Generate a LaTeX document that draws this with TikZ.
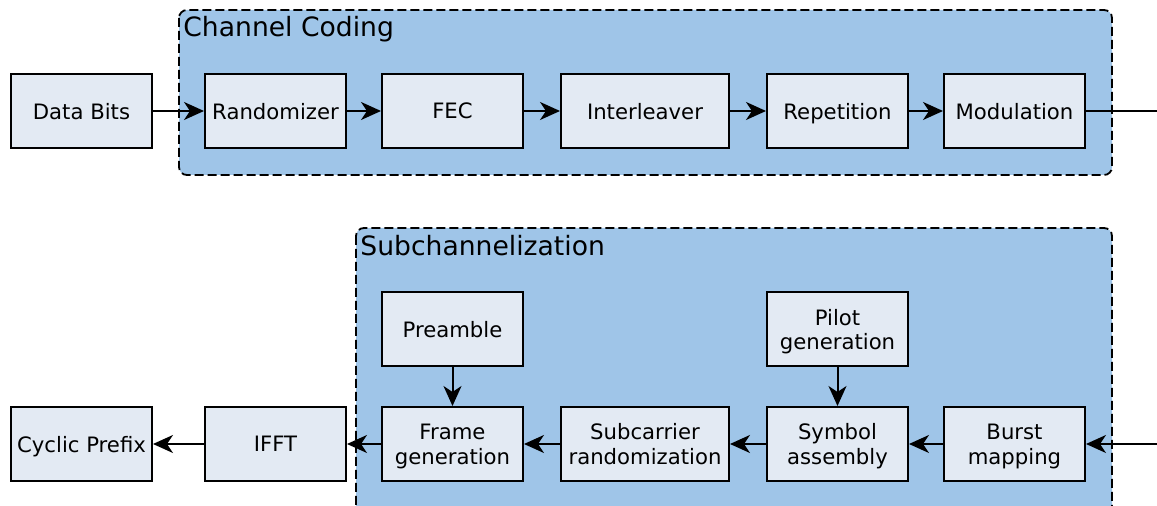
\documentclass[tikz,border=0pt]{standalone}
\usepackage{fontspec}
\setmainfont{DejaVu Sans}
\usetikzlibrary{arrows.meta,positioning}
\definecolor{boxfill}{RGB}{227,234,243}
\definecolor{groupfill}{RGB}{159,197,232}

\begin{document}
\begin{tikzpicture}[x=0.5pt, y=-0.5pt,
    block/.style={draw, line width=1pt, fill=boxfill, minimum width=70.5pt, minimum height=37pt,
        align=center, inner sep=2pt, text depth=0pt, font=\fontsize{10.6}{12.3}\selectfont},
    group/.style={draw, line width=0.9pt, dash pattern=on 4.5pt off 2pt, rounded corners=4pt, fill=groupfill},
    title/.style={anchor=base west, inner sep=0pt, font=\fontsize{13.3}{15}\selectfont},
    flow/.style={-{Stealth[length=10pt, width=9pt, inset=3pt]}, line width=1pt}]
    \useasboundingbox (0,0) rectangle (1157,506);

    % the two dashed groups
    \draw[group] (179,10) rectangle (1112,175);
    \node[title] (cctitle) at (183,37) {Channel Coding};
    \draw[group] (356,228) rectangle (1112,540);
    \node[title] (sctitle) at (360,256) {Subchannelization};

    % transmit chain, top row
    \node[block] (bits) at (81.5,111) {Data Bits};
    \node[block] (rand) at (275.5,111) {Randomizer};
    \node[block] (fec) at (452.5,111) {FEC};
    \node[block, minimum width=84pt] (inter) at (645,111) {Interleaver};
    \node[block] (rep) at (837.5,111) {Repetition};
    \node[block] (mod) at (1014.5,111) {Modulation};
    \coordinate (out) at (1157,111);

    % bottom row, right to left
    \node[block] (burst) at (1014.5,444) {Burst\\mapping};
    \node[block] (sym) at (837.5,444) {Symbol\\assembly};
    \node[block, minimum width=84pt] (subrand) at (645,444) {Subcarrier\\randomization};
    \node[block] (frame) at (452.5,444) {Frame\\generation};
    \node[block] (ifft) at (275.5,444) {IFFT};
    \node[block] (cp) at (81.5,444) {Cyclic Prefix};
    \node[block] (pilot) at (837.5,329.5) {Pilot\\generation};
    \node[block] (pre) at (452.5,329.5) {Preamble};
    \coordinate (in) at (1157,444);

    \draw[flow] (bits) -- (rand);
    \draw[flow] (rand) -- (fec);
    \draw[flow] (fec) -- (inter);
    \draw[flow] (inter) -- (rep);
    \draw[flow] (rep) -- (mod);
    \draw[line width=1pt] (mod) -- (out);

    \draw[flow] (in) -- (burst);
    \draw[flow] (burst) -- (sym);
    \draw[flow] (sym) -- (subrand);
    \draw[flow] (subrand) -- (frame);
    \draw[flow] (frame) -- (ifft);
    \draw[flow] (ifft) -- (cp);
    \draw[flow] (pilot) -- (sym);
    \draw[flow] (pre) -- (frame);
\end{tikzpicture}
\end{document}
